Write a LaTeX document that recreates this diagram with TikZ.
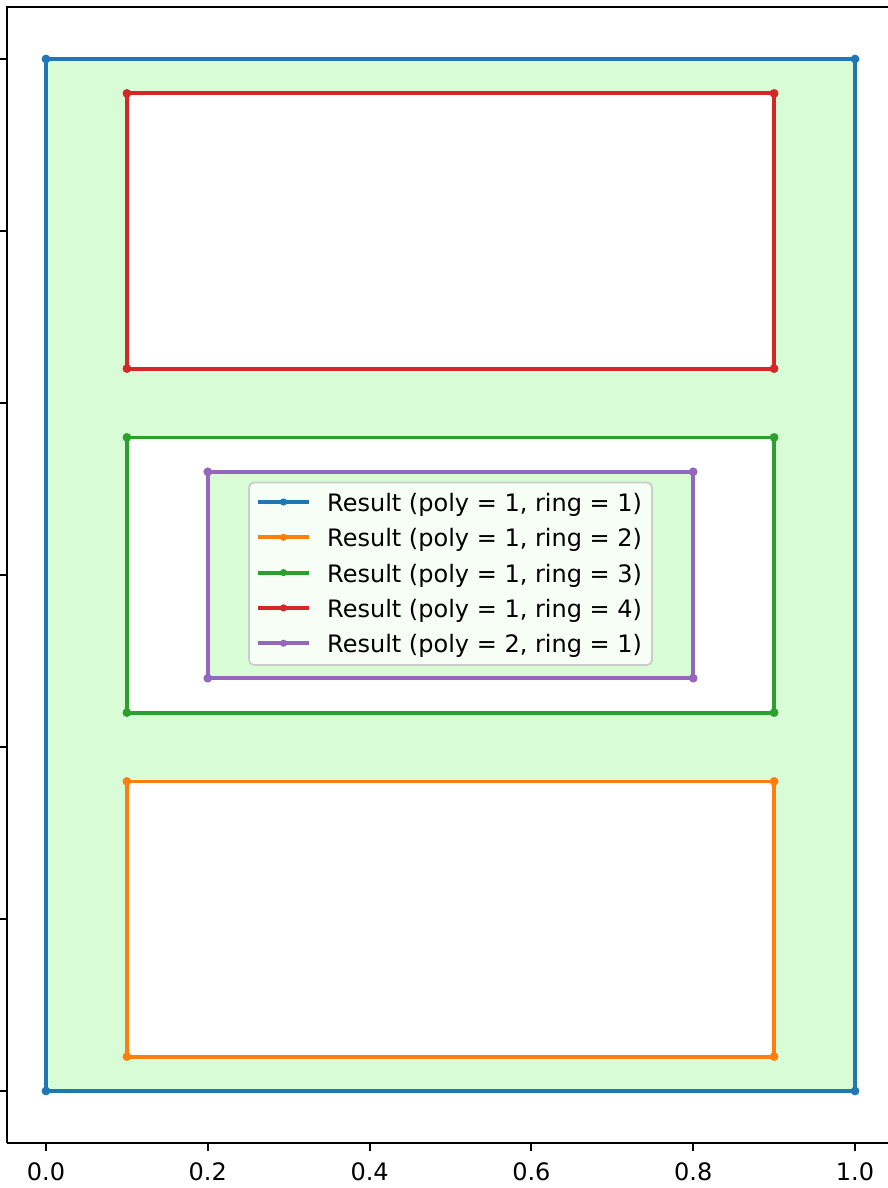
\documentclass[tikz,border=0pt]{standalone}
\usepackage{fontspec}
\setmainfont{DejaVu Sans}
\definecolor{cblue}{HTML}{1F77B4}
\definecolor{corange}{HTML}{FF7F0E}
\definecolor{cgreen}{HTML}{2CA02C}
\definecolor{cred}{HTML}{D62728}
\definecolor{cpurple}{HTML}{9467BD}
\definecolor{fillg}{RGB}{216,253,214}
\definecolor{legedge}{HTML}{CCCCCC}
\tikzset{
  ringline/.style={line width=3.8pt, line join=round},
  spine/.style={line width=2pt, black},
  tickmark/.style={line width=2pt, black},
  ticklab/.style={font=\fontsize{24}{28}\selectfont, anchor=base, inner sep=0pt},
  legtext/.style={font=\fontsize{24}{28}\selectfont, anchor=base west, inner sep=0pt},
  legframe/.style={draw=legedge, line width=1.8pt, fill=white, fill opacity=0.8, rounded corners=5pt},
}
\newcommand{\ringbox}[5]{%
  \draw[ringline,#5] (#1,#2) rectangle (#3,#4);
  \foreach \qx/\qy in {#1/#2,#3/#2,#3/#4,#1/#4} \fill[#5] (\qx,\qy) circle (4.4);
}
\begin{document}
\begin{tikzpicture}[x=1pt,y=-1pt]
\useasboundingbox (0,0) rectangle (888,1188);
% fill (even-odd)
\fill[fillg, even odd rule]
  (46,59) rectangle (855,1091)
  (126.9,93.4) rectangle (774.1,368.6)
  (126.9,437.4) rectangle (774.1,712.6)
  (126.9,781.4) rectangle (774.1,1056.6)
  (207.8,471.8) rectangle (693.2,678.2);
% rings
\ringbox{46}{59}{855}{1091}{cblue}
\ringbox{126.9}{781.4}{774.1}{1056.6}{corange}
\ringbox{126.9}{437.4}{774.1}{712.6}{cgreen}
\ringbox{126.9}{93.4}{774.1}{368.6}{cred}
\ringbox{207.8}{471.8}{693.2}{678.2}{cpurple}
% spines
\draw[spine] (6.5,1142.5) -- (6.5,7.5) -- (888,7.5);
\draw[spine] (6.5,1142.5) -- (888,1142.5);
% y ticks
\foreach \ty in {59,231,403,575,747,919,1091} \draw[tickmark] (0,\ty) -- (6.5,\ty);
% x ticks
\foreach \tx/\tl [count=\i] in {46/0.0,207.8/0.2,369.6/0.4,531.4/0.6,693.2/0.8,855/1.0} {
  \draw[tickmark] (\tx,1142.5) -- (\tx,1150.5);
  \node[ticklab] (xt\i) at (\tx,1180) {\tl};
}
% legend
\draw[legframe] (249,482.5) rectangle (652,665);
\node[legtext] (l1) at (327,511.5) {Result (poly = 1, ring = 1)};
\node[legtext] (l2) at (327,546.8) {Result (poly = 1, ring = 2)};
\node[legtext] (l3) at (327,582.1) {Result (poly = 1, ring = 3)};
\node[legtext] (l4) at (327,617.4) {Result (poly = 1, ring = 4)};
\node[legtext] (l5) at (327,652.7) {Result (poly = 2, ring = 1)};
\foreach \ly/\lc in {502/cblue,537.3/corange,572.6/cgreen,607.9/cred,643.2/cpurple} {
  \draw[ringline,\lc] (258,\ly) -- (309,\ly);
  \fill[\lc] (283.5,\ly) circle (3.6);
}
\end{tikzpicture}
\end{document}
